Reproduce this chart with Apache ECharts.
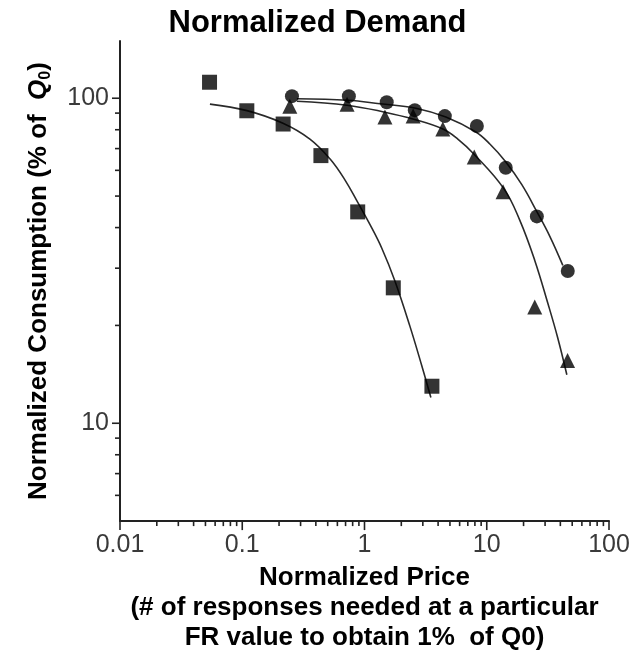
<!DOCTYPE html>
<html>
<head>
<meta charset="utf-8">
<title>Normalized Demand</title>
<script src="https://cdn.jsdelivr.net/npm/echarts@6/dist/echarts.min.js"></script>
<style>
  html, body { margin: 0; padding: 0; background: #fff; }
  #demandChart { width: 635px; height: 658px; }
</style>
</head>
<body>
<div id="demandChart"></div>
<script>
const squarePrice = [0.054, 0.109, 0.216, 0.44, 0.88, 1.72, 3.56];
const squareCons = [112, 91.5, 83.3, 66.6, 44.7, 26.1, 13.0];

const circlePrice = [0.255, 0.745, 1.52, 2.58, 4.54, 8.3, 14.3, 25.7, 46.0];
const circleCons = [101.5, 101.5, 97.2, 91.9, 88.1, 82.1, 61.1, 43.3, 29.4];

const trianglePrice = [0.245, 0.72, 1.47, 2.5, 4.37, 7.9, 13.6, 24.7, 45.8];
const triangleCons = [94.5, 95.9, 87.5, 88.1, 80.4, 66.0, 51.6, 22.8, 15.6];

// fitted curves
const squareFitPrice = [0.0544, 0.1092, 0.2152, 0.3577, 0.5213, 0.6912, 0.8831, 1.107, 1.388, 1.773, 2.351, 2.946, 3.491];
const squareFitCons = [95.9, 91.6, 83.8, 74.9, 65.1, 56.1, 47.7, 40.9, 34.5, 27.4, 19.9, 15.0, 12.0];

const circleFitPrice = [0.28, 0.732, 1.336, 2.633, 4.63, 8.145, 10.6, 14.33, 19.36, 25.68, 32.8, 41.9];
const circleFitCons = [99.6, 98.6, 96.2, 93.2, 87.5, 78.7, 72.3, 63.7, 54.2, 44.8, 37.6, 30.6];

const triangleFitPrice = [0.28, 0.718, 1.468, 2.488, 4.375, 5.8, 7.84, 13.8, 18.65, 24.7, 31.6, 38.1, 45.2];
const triangleFitCons = [97.9, 95.2, 90.6, 86.3, 80.4, 74.9, 67.4, 52.7, 42.1, 31.7, 23.4, 18.3, 14.1];

// axes
const priceTicks = [0.01, 0.1, 1, 10, 100];
const priceMinorTicks = [0.02, 0.03, 0.04, 0.05, 0.06, 0.07, 0.08, 0.09,
  0.2, 0.3, 0.4, 0.5, 0.6, 0.7, 0.8, 0.9,
  2, 3, 4, 5, 6, 7, 8, 9,
  20, 30, 40, 50, 60, 70, 80, 90];
const consTicks = [10, 100];
const consMinorTicks = [6, 7, 8, 9, 20, 30, 40, 50, 60, 70, 80, 90];
const priceMin = 0.01, priceMax = 100;
const consMin = 5, consMax = 150;

function zip(xs, ys) {
  return xs.map((x, i) => [x, ys[i]]);
}

function isDecade(v) {
  const l = Math.log10(v);
  return Math.abs(l - Math.round(l)) < 1e-6;
}

function fmt(v) {
  return isDecade(v) ? String(Number(v.toPrecision(6))) : '';
}

// tick marks drawn through the axis scales
function xTickItem(params, api) {
  const p = api.coord([api.value(0), consMin]);
  const len = api.value(1);
  return {
    type: 'line',
    shape: { x1: p[0], y1: p[1], x2: p[0], y2: p[1] + len },
    style: { stroke: '#222', lineWidth: 1.6 }
  };
}
function yTickItem(params, api) {
  const p = api.coord([priceMin, api.value(0)]);
  const len = api.value(1);
  return {
    type: 'line',
    shape: { x1: p[0], y1: p[1], x2: p[0] - len, y2: p[1] },
    style: { stroke: '#222', lineWidth: 1.6 }
  };
}

const textFont = 'Liberation Sans, Arial, sans-serif';
const lineColor = '#2a2a2a';

const chart = echarts.init(document.getElementById('demandChart'));

const option = {
  animation: false,
  backgroundColor: '#fff',
  title: {
    text: 'Normalized Demand',
    left: 'center',
    top: 3,
    textStyle: { fontFamily: textFont, fontSize: 31, fontWeight: 'bold', color: '#000' }
  },
  grid: { left: 120, right: 26, top: 41, bottom: 134 },
  xAxis: {
    type: 'log',
    logBase: 10,
    min: priceMin,
    max: priceMax,
    name: 'Normalized Price\n(# of responses needed at a particular\nFR value to obtain 1%  of Q0)',
    nameLocation: 'middle',
    nameGap: 40,
    nameTextStyle: { fontFamily: textFont, fontSize: 26, fontWeight: 'bold', color: '#000', lineHeight: 30 },
    axisLine: { onZero: false, lineStyle: { color: '#222', width: 2 } },
    axisTick: { show: false },
    splitLine: { show: false },
    axisLabel: {
      margin: 12,
      fontFamily: textFont,
      fontSize: 25,
      color: '#3a3a3a',
      formatter: fmt
    }
  },
  yAxis: {
    type: 'log',
    logBase: 10,
    min: consMin,
    max: consMax,
    name: '{t|Normalized Consumption (% of  }{q|Q}{s|0}{t|)}',
    nameLocation: 'middle',
    nameRotate: 90,
    nameGap: 66,
    nameTextStyle: {
      rich: {
        t: { fontFamily: textFont, fontSize: 26, fontWeight: 'bold', color: '#000', lineHeight: 30 },
        q: { fontFamily: textFont, fontSize: 26, fontWeight: 'bold', fontStyle: 'italic', color: '#000', lineHeight: 30 },
        s: { fontFamily: textFont, fontSize: 16, fontWeight: 'bold', color: '#000', lineHeight: 30, verticalAlign: 'bottom', padding: [12, 0, 0, 0] }
      }
    },
    axisLine: { onZero: false, lineStyle: { color: '#222', width: 2 } },
    axisTick: { show: false },
    splitLine: { show: false },
    axisLabel: {
      margin: 11,
      fontFamily: textFont,
      fontSize: 25,
      color: '#3a3a3a',
      formatter: fmt
    }
  },
  series: [
    {
      name: 'x ticks',
      type: 'custom',
      silent: true,
      clip: false,
      renderItem: xTickItem,
      data: priceTicks.map(v => [v, 9]).concat(priceMinorTicks.map(v => [v, 5])),
      encode: { x: 0 },
      z: 1
    },
    {
      name: 'y ticks',
      type: 'custom',
      silent: true,
      clip: false,
      renderItem: yTickItem,
      data: consTicks.map(v => [v, 8]).concat(consMinorTicks.map(v => [v, 5])),
      encode: { y: 0 },
      z: 1
    },
    {
      name: 'Square fit',
      type: 'line',
      data: zip(squareFitPrice, squareFitCons),
      smooth: 0.4,
      showSymbol: false,
      lineStyle: { color: lineColor, width: 1.6 },
      z: 2
    },
    {
      name: 'Circle fit',
      type: 'line',
      data: zip(circleFitPrice, circleFitCons),
      smooth: 0.4,
      showSymbol: false,
      lineStyle: { color: lineColor, width: 1.6 },
      z: 2
    },
    {
      name: 'Triangle fit',
      type: 'line',
      data: zip(triangleFitPrice, triangleFitCons),
      smooth: 0.4,
      showSymbol: false,
      lineStyle: { color: lineColor, width: 1.6 },
      z: 2
    },
    {
      name: 'Squares',
      type: 'scatter',
      symbol: 'rect',
      symbolSize: 15,
      itemStyle: { color: '#000' },
      data: zip(squarePrice, squareCons),
      z: 3
    },
    {
      name: 'Circles',
      type: 'scatter',
      symbol: 'circle',
      symbolSize: 14,
      itemStyle: { color: '#000' },
      data: zip(circlePrice, circleCons),
      z: 3
    },
    {
      name: 'Triangles',
      type: 'scatter',
      symbol: 'triangle',
      symbolSize: 15,
      itemStyle: { color: '#000' },
      data: zip(trianglePrice, triangleCons),
      z: 3
    }
  ]
};

chart.setOption(option);
</script>
</body>
</html>
